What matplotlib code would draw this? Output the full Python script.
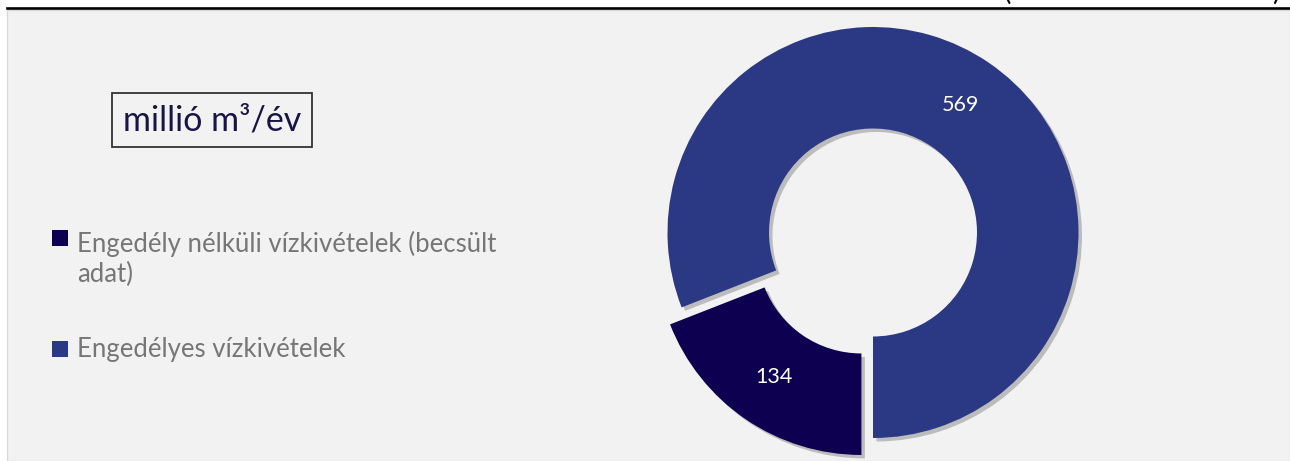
import matplotlib
import matplotlib.pyplot as plt
import matplotlib.patheffects as pe
from matplotlib.patches import Rectangle
from matplotlib.lines import Line2D

matplotlib.use('agg')

# data
labels = ['Engedély nélküli vízkivételek (becsült\nadat)', 'Engedélyes vízkivételek']
values = [134, 569]
colors = ['#0e0050', '#2b3884']
explode = [0.1, 0]
unit = 'millió m³/év'

W, H = 1290, 461
plt.rcParams['font.family'] = ['Lato', 'DejaVu Sans']

fig = plt.figure(figsize=(W / 100, H / 100), dpi=100, facecolor='white')


def fx(x):
    return x / W


def fy(y):
    return 1 - y / H


# grey panel + top rule
fig.patches.append(Rectangle((fx(7), 0), 1 - fx(7), fy(10), transform=fig.transFigure,
                             facecolor='#f2f2f2', edgecolor='#d9d9d9', lw=1, zorder=-10))
fig.lines.append(Line2D([fx(7), 1], [fy(8.5), fy(8.5)], transform=fig.transFigure,
                        color='black', lw=1.9))
# parentheses of the heading above, cut off by the crop
fig.text(fx(1007), fy(-9), '(', fontsize=20, ha='center', va='center', color='black')
fig.text(fx(1276), fy(-9), ')', fontsize=20, ha='center', va='center', color='black')

# donut
cx, cy, r, half = 873, 232.5, 205.5, 230
ax = fig.add_axes([fx(cx - half), fy(cy + half), 2 * half / W, 2 * half / H], zorder=2)

wedges, texts, autotexts = ax.pie(
    values, colors=colors, explode=explode, startangle=270, counterclock=False,
    radius=1, wedgeprops=dict(width=0.494, linewidth=0),
    autopct=lambda p: '{:.0f}'.format(p * sum(values) / 100), pctdistance=0.753,
    textprops=dict(color='white', fontsize=15.5))
for w in wedges:
    w.set_path_effects([pe.SimplePatchShadow(offset=(2.5, -2.5), shadow_rgbFace='black', alpha=0.22),
                        pe.Normal()])
ax.set_xlim(-half / r, half / r)
ax.set_ylim(-half / r, half / r)
ax.axis('off')

# unit box
fig.patches.append(Rectangle((fx(112), fy(147)), fx(312) - fx(112), fy(93) - fy(147),
                             transform=fig.transFigure, facecolor='none',
                             edgecolor='#333333', lw=1.3))
fig.text(fx(212), fy(120), unit, fontsize=24.5, color='#1a1446', ha='center', va='center')

# legend
sq = 16
legend_rows = [(246, 282), (357, 357)]
for (top_base, last_base), lab, col in zip(legend_rows, labels, colors):
    fig.patches.append(Rectangle((fx(52), fy(top_base)), sq / W, sq / H,
                                 transform=fig.transFigure, facecolor=col, edgecolor='none'))
    fig.text(fx(77), fy(last_base), lab, fontsize=18.5, color='#767676',
             ha='left', va='baseline', linespacing=1.25)

plt.savefig('out.png', dpi=100, facecolor=fig.get_facecolor())
